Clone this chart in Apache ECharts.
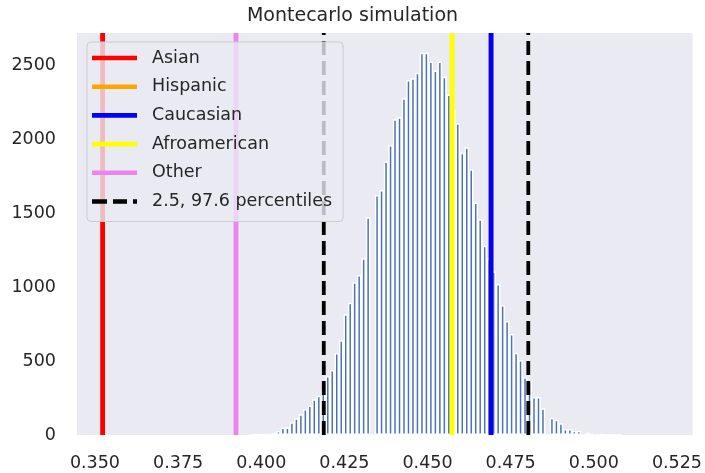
<!DOCTYPE html>
<html>
<head>
<meta charset="utf-8">
<script src="https://cdn.jsdelivr.net/npm/echarts@6/dist/echarts.min.js"></script>
<style>
html,body{margin:0;padding:0;background:#fff;}
#chart{width:705px;height:473px;}
</style>
</head>
<body>
<div id="chart"></div>
<script>
// ---- data ----
const titleText = 'Montecarlo simulation';
const xTicks = [0.350, 0.375, 0.400, 0.425, 0.450, 0.475, 0.500, 0.525];
const yTicks = [0, 500, 1000, 1500, 2000, 2500];
const xRange = [0.3446, 0.5297];
const yRange = [0, 2716];

const binCenters = [
  0.39709, 0.39844, 0.39978, 0.40113, 0.40248, 0.40383, 0.40518, 0.40652, 0.40787, 0.40922,
  0.41057, 0.41192, 0.41326, 0.41461, 0.41596, 0.41731, 0.41866, 0.42001, 0.42135, 0.42270,
  0.42405, 0.42540, 0.42675, 0.42809, 0.42944, 0.43079, 0.43214, 0.43349, 0.43483, 0.43618,
  0.43753, 0.43888, 0.44023, 0.44158, 0.44292, 0.44427, 0.44562, 0.44697, 0.44832, 0.44966,
  0.45101, 0.45236, 0.45371, 0.45506, 0.45640, 0.45775, 0.45910, 0.46045, 0.46180, 0.46314,
  0.46449, 0.46584, 0.46719, 0.46854, 0.46989, 0.47123, 0.47258, 0.47393, 0.47528, 0.47663,
  0.47797, 0.47932, 0.48067, 0.48202, 0.48337, 0.48471, 0.48606, 0.48741, 0.48876, 0.49011,
  0.49145, 0.49280, 0.49415, 0.49550, 0.49685, 0.49820, 0.49954, 0.50089, 0.50224, 0.50359,
  0.50494, 0.50628, 0.50763
];
const binCounts = [
  1, 2, 3, 4, 8, 16, 27, 50, 50, 86,
  113, 140, 176, 200, 241, 266, 300, 399, 439, 554,
  640, 816, 894, 1032, 1081, 1194, 1471, 0, 1622, 1655,
  1847, 1959, 2133, 2146, 2275, 2399, 2410, 2448, 2583, 2583,
  2523, 2462, 2523, 2421, 2300, 2200, 2106, 1907, 1944, 1795,
  1570, 1457, 1279, 1190, 1104, 1020, 878, 770, 682, 556,
  507, 390, 365, 257, 257, 180, 0, 116, 103, 79,
  41, 41, 29, 29, 0, 16, 8, 0, 7, 2,
  4, 1, 1
];

const groupNames = ['Asian', 'Hispanic', 'Caucasian', 'Afroamerican', 'Other'];
const groupValues = [0.3523, 0.4691, 0.4691, 0.4574, 0.3924];
const groupColors = ['#ff0000', '#ffa500', '#0000ff', '#ffff00', '#ee82ee'];

const percentileName = '2.5, 97.6 percentiles';
const percentileValues = [0.4188, 0.4803];

// ---- chart ----
const textColor = '#262626';
const font = "'DejaVu Sans', sans-serif";
const chart = echarts.init(document.getElementById('chart'), null, {renderer: 'canvas'});

const series = [{
  type: 'bar',
  name: 'hist',
  data: binCenters.map((c, i) => [c, binCounts[i]]),
  barWidth: 4.5,
  itemStyle: {color: '#4C72B0', borderColor: '#ffffff', borderWidth: 1.5},
  silent: true,
  z: 1
}];

groupNames.forEach((n, i) => {
  series.push({
    type: 'line',
    name: n,
    data: [[groupValues[i], yRange[0]], [groupValues[i], yRange[1]]],
    symbol: 'none',
    lineStyle: {color: groupColors[i], width: 4.8},
    itemStyle: {color: groupColors[i]},
    silent: true,
    z: 3
  });
});
percentileValues.forEach(v => {
  series.push({
    type: 'line',
    name: percentileName,
    data: [[v, yRange[0]], [v, yRange[1]]],
    symbol: 'none',
    lineStyle: {color: '#000000', width: 3.8, type: [14, 6]},
    itemStyle: {color: '#000000'},
    silent: true,
    z: 3
  });
});

const legendData = groupNames.map(n => ({name: n, icon: 'rect'}));
legendData.push({name: percentileName, icon: 'path://M0,0h15v4.6h-15z M21,0h14v4.6h-14z M41,0h4v4.6h-4z'});

chart.setOption({
  animation: false,
  backgroundColor: '#ffffff',
  title: {
    text: titleText,
    left: 'center',
    top: 7,
    padding: [0, 0, 0, 68],
    textStyle: {color: textColor, fontFamily: font, fontSize: 19, fontWeight: 'normal'}
  },
  grid: {
    left: 77, right: 9, top: 33, bottom: 38,
    show: true, backgroundColor: '#EAEAF2', borderWidth: 0
  },
  legend: {
    data: legendData,
    orient: 'vertical',
    left: 87,
    top: 42,
    padding: [6, 11, 10, 5],
    itemWidth: 45,
    itemHeight: 4.6,
    itemGap: 8.7,
    backgroundColor: 'rgba(234,234,242,0.8)',
    borderColor: '#cccccc',
    borderWidth: 1,
    borderRadius: 4,
    textStyle: {color: textColor, fontFamily: font, fontSize: 17.5, lineHeight: 20, padding: [0, 0, 0, 10]}
  },
  xAxis: {
    type: 'value',
    min: xRange[0],
    max: xRange[1],
    axisLine: {show: false},
    axisTick: {show: false},
    splitLine: {show: false},
    axisLabel: {
      customValues: xTicks,
      formatter: v => v.toFixed(3),
      color: textColor, fontFamily: font, fontSize: 17.5, margin: 19
    }
  },
  yAxis: {
    type: 'value',
    min: yRange[0],
    max: yRange[1],
    axisLine: {show: false},
    axisTick: {show: false},
    splitLine: {show: false},
    axisLabel: {
      customValues: yTicks,
      formatter: v => String(v),
      color: textColor, fontFamily: font, fontSize: 17.5, margin: 21
    }
  },
  series: series
});
</script>
</body>
</html>
